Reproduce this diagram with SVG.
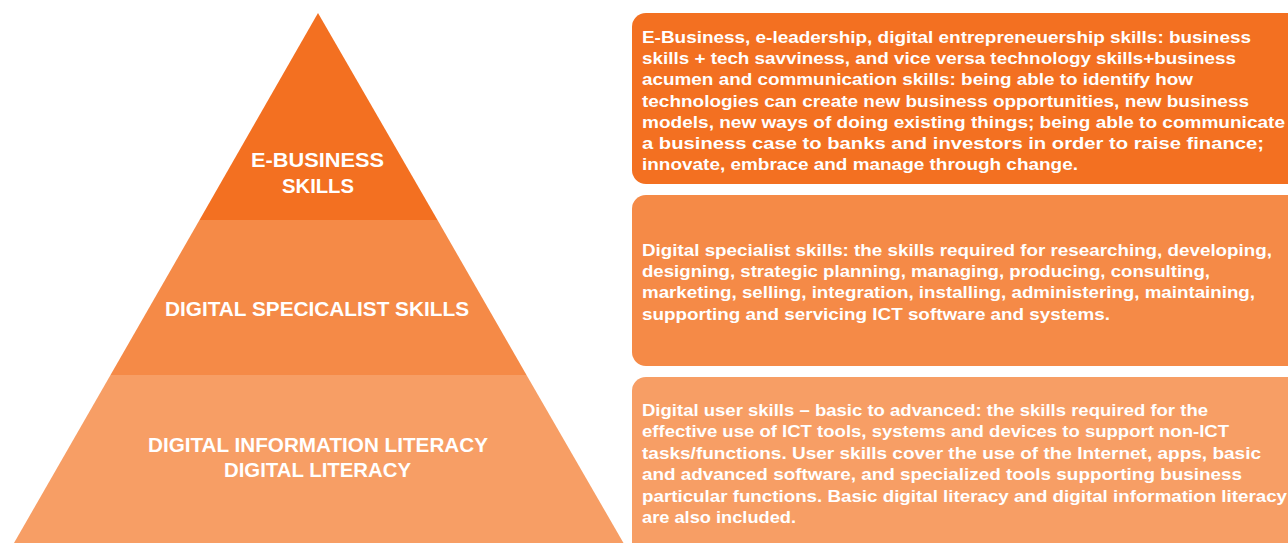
<svg xmlns="http://www.w3.org/2000/svg" width="1288" height="543" viewBox="0 0 1288 543">
<style>
.t1{fill:#F37021}.t2{fill:#F58A47}.t3{fill:#F79E65}
.lbl{font-family:"Liberation Sans",Arial,sans-serif;font-weight:bold;font-size:20px;fill:#fff}
.txt{font-family:"Liberation Sans",Arial,sans-serif;font-weight:bold;font-size:17px;fill:#fff}
</style>
<rect width="1288" height="543" fill="#fff"/>
<g id="tier1">
<polygon class="t1" points="318,13 437.5,220 199.5,220"/>
<text class="lbl" x="251" y="167" textLength="133" lengthAdjust="spacingAndGlyphs">E-BUSINESS</text>
<text class="lbl" x="282" y="193" textLength="72" lengthAdjust="spacingAndGlyphs">SKILLS</text>
</g>
<g id="tier2">
<polygon class="t2" points="199.5,220 437.5,220 526.5,375 110.5,375"/>
<text class="lbl" x="165" y="316" textLength="304" lengthAdjust="spacingAndGlyphs">DIGITAL SPECICALIST SKILLS</text>
</g>
<g id="tier3">
<polygon class="t3" points="110.5,375 526.5,375 623.5,543 14,543"/>
<text class="lbl" x="148" y="452" textLength="340" lengthAdjust="spacingAndGlyphs">DIGITAL INFORMATION LITERACY</text>
<text class="lbl" x="224" y="477" textLength="187" lengthAdjust="spacingAndGlyphs">DIGITAL LITERACY</text>
</g>
<g id="box1">
<rect class="t1" x="632" y="13" width="670" height="171" rx="14"/>
<text class="txt" x="642" y="43" textLength="609" lengthAdjust="spacingAndGlyphs">E-Business, e-leadership, digital entrepreneuership skills: business</text>
<text class="txt" x="642" y="64.2" textLength="594" lengthAdjust="spacingAndGlyphs">skills + tech savviness, and vice versa technology skills+business</text>
<text class="txt" x="642" y="85.4" textLength="551" lengthAdjust="spacingAndGlyphs">acumen and communication skills: being able to identify how</text>
<text class="txt" x="642" y="106.6" textLength="607" lengthAdjust="spacingAndGlyphs">technologies can create new business opportunities, new business</text>
<text class="txt" x="642" y="127.8" textLength="643" lengthAdjust="spacingAndGlyphs">models, new ways of doing existing things; being able to communicate</text>
<text class="txt" x="642" y="149" textLength="622" lengthAdjust="spacingAndGlyphs">a business case to banks and investors in order to raise finance;</text>
<text class="txt" x="642" y="170.2" textLength="436" lengthAdjust="spacingAndGlyphs">innovate, embrace and manage through change.</text>
</g>
<g id="box2">
<rect class="t2" x="632" y="195" width="670" height="171" rx="14"/>
<text class="txt" x="642" y="256" textLength="630" lengthAdjust="spacingAndGlyphs">Digital specialist skills: the skills required for researching, developing,</text>
<text class="txt" x="642" y="277.2" textLength="568" lengthAdjust="spacingAndGlyphs">designing, strategic planning, managing, producing, consulting,</text>
<text class="txt" x="642" y="298.4" textLength="613" lengthAdjust="spacingAndGlyphs">marketing, selling, integration, installing, administering, maintaining,</text>
<text class="txt" x="642" y="319.6" textLength="468" lengthAdjust="spacingAndGlyphs">supporting and servicing ICT software and systems.</text>
</g>
<g id="box3">
<rect class="t3" x="632" y="377" width="670" height="190" rx="14"/>
<text class="txt" x="642" y="416" textLength="566" lengthAdjust="spacingAndGlyphs">Digital user skills – basic to advanced: the skills required for the</text>
<text class="txt" x="642" y="437.4" textLength="587" lengthAdjust="spacingAndGlyphs">effective use of ICT tools, systems and devices to support non-ICT</text>
<text class="txt" x="642" y="458.8" textLength="619" lengthAdjust="spacingAndGlyphs">tasks/functions. User skills cover the use of the Internet, apps, basic</text>
<text class="txt" x="642" y="480.2" textLength="600" lengthAdjust="spacingAndGlyphs">and advanced software, and specialized tools supporting business</text>
<text class="txt" x="642" y="501.6" textLength="645" lengthAdjust="spacingAndGlyphs">particular functions. Basic digital literacy and digital information literacy</text>
<text class="txt" x="642" y="523" textLength="154" lengthAdjust="spacingAndGlyphs">are also included.</text>
</g>
<g id="connectors"></g>
</svg>
